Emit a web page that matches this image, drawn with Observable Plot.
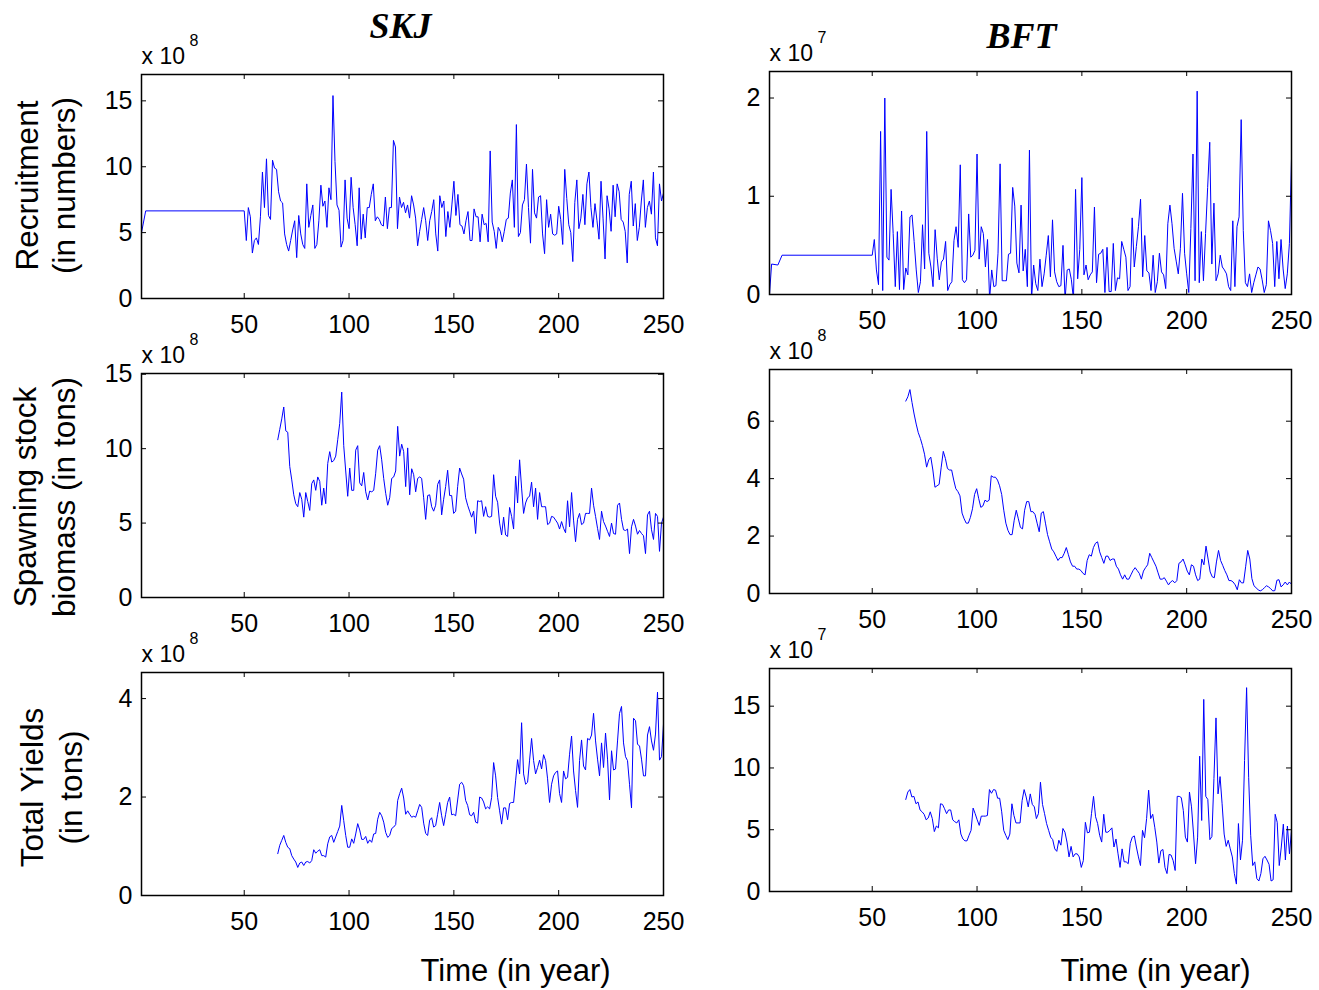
<!DOCTYPE html>
<html><head><meta charset="utf-8">
<script src="https://cdn.jsdelivr.net/npm/d3@7"></script>
<script src="https://cdn.jsdelivr.net/npm/@observablehq/plot@0.6"></script>
<style>
body{margin:0;background:#fff;}
#fig{position:relative;width:1319px;height:990px;background:#fff;overflow:hidden;}
#fig svg{position:absolute;overflow:visible;}
</style></head><body><div id="fig"></div>
<script>
// ---------- data ----------
const xTicks = [50, 100, 150, 200, 250];
const speciesTitles = ["SKJ", "BFT"];
const rowLabels = [["Recruitment", "(in numbers)"], ["Spawning stock", "biomass (in tons)"], ["Total Yields", "(in tons)"]];
const timeLabel = "Time (in year)";

// SKJ recruitment (x 10^8): initial constant phase, then yearly values 51..250
const skjRecHeadYears = [1, 3, 50];
const skjRecHeadVals = [5.0, 6.65, 6.65];
const skjRec = [4.4,6.9,6.2,3.45,4.4,4.6,4.1,6.2,9.6,6.9,10.6,6.3,6.0,10.5,9.9,9.8,8.1,7.4,7.25,4.9,4.1,3.6,4.4,5.2,5.9,3.1,6.3,4.9,4.1,3.8,8.7,5.4,6.3,7.1,3.8,4.1,5.9,8.6,7.0,7.4,5.4,8.4,7.5,15.4,10.4,7.1,6.7,3.9,4.4,9.0,6.1,5.3,9.2,6.9,5.6,4.0,8.4,4.5,6.4,4.6,6.9,6.9,7.9,8.7,5.9,6.2,6.0,5.6,5.5,7.7,5.3,6.9,6.9,12.0,11.5,5.3,7.7,6.9,7.3,6.5,7.1,6.1,7.8,7.1,6.1,4.0,5.1,6.0,6.9,5.9,4.4,5.9,6.6,7.5,4.9,3.6,7.8,6.9,7.4,4.7,6.6,5.4,7.1,8.9,6.3,7.9,5.6,5.5,4.9,5.9,6.6,4.4,4.4,6.8,6.2,6.2,4.3,6.4,5.6,5.7,4.3,11.2,5.8,5.1,3.8,5.4,5.1,4.3,5.1,6.0,6.1,8.0,9.0,5.4,13.2,4.7,5.0,7.1,7.5,10.2,6.9,4.2,9.8,6.5,6.1,7.7,7.8,4.9,3.4,7.5,5.4,6.4,4.9,4.8,4.9,7.0,6.0,4.1,9.8,7.6,5.6,5.0,2.8,7.3,9.0,5.3,6.1,7.9,5.6,8.7,9.6,6.9,5.4,7.2,5.9,4.5,8.9,6.1,3.0,7.8,6.8,5.1,8.6,6.2,8.7,8.1,6.0,5.8,5.1,2.7,7.9,8.9,5.5,7.2,4.4,5.4,7.4,9.0,5.4,6.9,7.4,6.4,9.6,4.6,4.0,8.7,7.4,8.0];

// BFT recruitment (x 10^7)
const bftRecHeadYears = [1, 2, 5, 7, 50];
const bftRecHeadVals = [0, 0.31, 0.30, 0.40, 0.40];
const bftRec = [0.56,0.25,0.10,1.66,0.04,2.0,0.38,0.35,1.07,0.62,0.08,0.64,0.05,0.85,0.05,0.27,0.20,0.79,0.81,0.54,0.25,0.02,0.13,0.71,0.26,1.66,0.42,0.28,0.08,0.66,0.37,0.15,0.33,0.36,0.54,0.04,0.10,0.13,0.55,0.69,0.48,1.32,0.15,0.12,0.15,0.82,0.38,0.40,0.45,1.43,0.36,0.69,0.62,0.28,0.56,-0.05,0.25,0.08,0.09,0.42,1.33,0.14,0.14,0.14,0.41,0.42,1.09,0.90,0.32,0.22,0.91,0.24,0.46,0.08,1.47,-0.05,0.30,0.11,0.04,0.36,0.08,0.21,0.40,0.60,0.18,0.76,0.23,0.13,0.08,0.09,0.50,-0.05,0.25,0.26,0.15,-0.05,1.07,0.16,0.46,1.19,0.20,0.30,0.15,0.20,0.23,0.89,0.12,0.41,0.42,0.46,0.02,0.48,0.03,0.03,0.52,0.04,0.17,0.16,0.54,0.46,0.38,0.04,0.08,0.78,0.28,0.49,0.69,0.97,0.18,0.60,0.24,0.22,0.04,0.40,0.02,0.13,0.42,0.23,0.20,0.06,0.72,0.91,0.72,0.47,0.34,0.21,0.47,1.03,0.42,0.21,0.02,0.67,1.43,0.14,2.07,0.12,0.64,0.14,0.62,1.09,1.55,0.31,0.93,0.14,0.21,0.40,0.28,0.25,0.21,0.08,0.04,0.75,0.08,0.69,0.79,1.78,0.65,0.12,0.08,0.21,0.02,0.12,0.20,0.28,0.26,0.15,0.02,0.10,0.75,0.65,0.52,0.08,0.54,0.16,0.56,0.26,0.06,0.21,0.52,1.38];

// Spawning stock biomass, years 66..250
const skjSSB = [10.6,11.3,12.0,12.8,11.2,11.1,8.8,7.9,6.9,6.3,6.1,7.05,6.6,5.4,7.05,6.45,5.85,7.65,7.9,7.2,8.1,7.8,6.2,7.35,6.3,9.0,9.8,9.1,9.2,9.5,10.6,11.7,13.8,10.2,8.5,6.8,8.7,7.2,7.2,9.9,10.2,7.7,7.5,8.4,7.1,6.55,7.15,7.1,7.2,8.35,9.9,10.2,9.25,8.0,7.0,6.2,6.7,8.0,8.1,8.5,11.5,9.5,10.3,9.8,7.45,10.05,6.9,8.65,8.25,7.1,8.0,8.1,8.0,6.7,5.25,6.85,6.9,6.1,5.8,6.2,7.6,7.9,5.55,6.6,7.45,8.55,6.85,6.85,5.65,5.8,7.45,8.7,8.3,7.95,6.7,6.2,5.8,5.4,5.8,4.3,6.5,6.45,6.5,5.45,6.1,5.45,5.4,5.45,8.25,6.8,6.4,5.0,4.2,5.4,4.2,4.1,6.05,5.45,4.6,8.15,6.35,9.25,7.35,5.65,6.35,6.7,6.8,7.75,6.1,7.35,5.25,7.05,6.1,6.1,6.1,4.9,5.0,5.45,5.4,5.2,5.0,4.6,5.1,4.65,4.35,6.5,4.75,7.05,5.2,3.75,5.25,5.65,4.9,5.0,5.65,5.65,5.65,7.35,6.2,5.45,4.65,3.9,5.8,5.1,4.8,4.45,4.1,5.0,4.3,4.25,6.2,6.35,5.25,4.55,4.5,4.6,2.95,4.75,5.25,4.8,4.25,4.5,4.3,4.15,2.95,5.55,5.8,4.55,3.9,5.65,5.45,3.1,5.0,5.4];
const bftSSB = [6.7,6.85,7.1,6.65,6.25,5.9,5.6,5.4,5.15,4.85,4.4,4.65,4.75,4.3,3.7,3.75,3.8,4.4,4.95,4.7,4.35,4.3,4.3,3.95,3.65,3.55,3.4,2.8,2.6,2.45,2.45,2.65,2.95,3.45,3.65,3.3,3.0,3.05,3.25,3.2,3.25,4.1,4.05,4.05,3.95,3.75,3.45,2.9,2.45,2.2,2.05,2.05,2.55,2.9,2.6,2.3,2.25,2.9,3.2,3.2,2.85,2.85,2.75,2.45,2.15,2.8,2.85,2.45,2.05,1.8,1.55,1.45,1.3,1.15,1.25,1.25,1.4,1.6,1.35,1.1,0.95,0.95,0.85,0.85,0.8,0.7,0.65,1.15,1.35,1.3,1.6,1.75,1.8,1.45,1.25,1.05,1.3,1.3,1.15,1.2,1.2,0.95,0.85,0.65,0.5,0.65,0.5,0.5,0.65,0.8,0.9,0.8,0.7,0.5,0.78,0.9,1.0,1.4,1.25,1.1,0.95,0.72,0.5,0.5,0.55,0.43,0.3,0.4,0.45,0.37,0.45,1.05,1.1,1.2,1.0,0.78,0.65,1.0,0.95,0.65,0.45,0.5,1.2,1.0,1.65,1.2,0.75,0.58,0.55,1.1,1.5,1.15,0.98,0.8,0.65,0.45,0.45,0.4,0.3,0.13,0.48,0.37,0.37,0.93,1.5,1.2,0.52,0.27,0.2,0.13,0.09,0.13,0.2,0.27,0.23,0.17,0.09,0.1,0.46,0.48,0.23,0.3,0.4,0.3,0.4,0.32];

// Total yields, years 66..250
const skjYield = [0.85,1.02,1.12,1.22,1.08,0.98,0.95,0.81,0.74,0.68,0.57,0.66,0.68,0.61,0.68,0.69,0.66,0.71,0.93,0.86,0.9,0.93,0.81,0.81,0.78,1.05,1.19,1.22,1.08,1.19,1.3,1.41,1.83,1.52,1.22,0.98,0.98,1.15,1.06,1.25,1.46,1.33,1.14,1.14,1.2,1.06,1.13,1.08,1.25,1.26,1.55,1.69,1.62,1.49,1.28,1.18,1.22,1.36,1.39,1.44,1.93,2.07,2.18,1.98,1.65,1.72,1.65,1.59,1.61,1.59,1.72,1.85,1.79,1.47,1.26,1.22,1.53,1.58,1.39,1.42,1.65,1.89,1.62,1.42,1.65,1.89,2.0,1.64,1.65,1.62,1.94,2.26,2.3,2.23,1.93,1.83,1.64,1.62,1.69,1.49,1.47,2.0,1.98,1.9,1.76,1.8,1.76,1.99,2.7,2.43,1.99,1.72,1.45,1.78,1.78,1.54,1.87,1.89,1.89,2.33,2.76,2.47,3.51,2.47,2.26,2.3,2.75,3.19,2.74,2.47,2.6,2.75,2.57,2.86,2.74,2.37,1.89,2.26,2.43,2.5,2.53,2.07,1.89,2.53,2.37,2.4,2.87,3.24,2.53,2.13,1.79,2.74,3.16,2.63,2.55,3.19,3.16,3.26,3.7,3.14,2.77,2.43,3.1,2.6,3.3,2.77,1.94,2.94,2.55,2.57,3.14,3.7,3.84,3.1,2.82,2.74,2.26,1.78,3.6,3.55,3.07,3.04,2.77,2.43,2.43,3.26,3.43,3.14,2.95,3.28,4.13,2.75,2.82,3.48];
const bftYield = [7.45,8.05,8.25,7.65,7.7,7.1,7.25,6.6,6.45,6.25,5.8,5.95,6.45,5.9,4.85,5.3,5.15,7.1,7.05,6.7,6.3,6.6,6.6,5.8,5.65,5.55,5.8,4.65,4.25,4.1,4.1,4.55,4.95,6.75,6.3,5.8,5.35,6.1,6.1,6.1,6.15,8.25,7.95,8.25,8.2,7.55,7.55,6.45,4.95,4.55,4.2,4.65,7.1,6.15,5.55,5.55,5.55,7.35,8.25,7.65,6.85,7.9,7.05,6.85,5.9,6.3,8.85,7.05,6.3,5.5,4.95,4.4,4.2,3.45,3.25,4.15,3.75,5.1,4.8,4.0,2.8,3.65,2.8,3.05,3.05,2.8,1.95,2.5,5.6,4.75,4.8,6.3,7.7,6.05,5.5,4.55,4.0,6.25,4.8,4.8,4.95,5.15,3.6,4.25,3.05,1.95,3.45,2.4,2.4,2.25,3.9,4.4,4.5,3.6,2.8,2.1,4.95,4.35,5.9,8.2,5.9,6.25,5.2,4.0,2.3,3.3,3.4,1.95,1.45,3.0,2.95,2.5,1.7,7.7,7.7,7.6,6.55,4.4,4.0,8.05,6.85,4.65,2.25,4.4,10.95,5.75,15.55,7.7,7.45,4.2,4.45,9.15,14.05,7.9,9.3,7.1,4.65,3.65,4.15,3.45,2.8,1.45,0.6,5.5,2.55,4.15,10.6,16.5,9.25,4.55,2.1,2.4,1.05,0.85,1.45,2.65,2.85,2.55,2.2,0.85,0.95,6.25,5.6,2.1,3.6,5.45,2.55,5.3,3.05,4.95];

// y tick values and exponents per panel
const yTicksSkjRec = [0, 5, 10, 15], yTicksBftRec = [0, 1, 2];
const yTicksSkjSSB = [0, 5, 10, 15], yTicksBftSSB = [0, 2, 4, 6];
const yTicksSkjYield = [0, 2, 4], yTicksBftYield = [0, 5, 10, 15];
const exponents = [["8", "7"], ["8", "8"], ["8", "7"]];

// ---------- build rows ----------
function rows(headYears, headVals, start, end, vals) {
  const out = headYears.map((x, i) => ({year: x, v: headVals[i]}));
  const n = vals.length;
  vals.forEach((v, i) => out.push({year: start + i * (end - start) / (n - 1), v}));
  return out;
}

const FONT = "'Liberation Sans', Arial, Helvetica, sans-serif";
const SERIF = "'Liberation Serif', 'Times New Roman', serif";

const panels = [
  {col:0,row:0,left:0,  top:0,  w:693,h:340,ml:141,mr:30,mt:74,mb:42, yMax:17,   ticks:yTicksSkjRec,  data:rows(skjRecHeadYears, skjRecHeadVals, 51, 250, skjRec)},
  {col:1,row:0,left:693,top:0,  w:626,h:340,ml:76, mr:28,mt:71,mb:46, yMax:2.27, ticks:yTicksBftRec,  data:rows(bftRecHeadYears, bftRecHeadVals, 51, 250, bftRec)},
  {col:0,row:1,left:0,  top:340,w:693,h:300,ml:141,mr:30,mt:33,mb:43, yMax:15.05,ticks:yTicksSkjSSB,  data:rows([], [], 66, 250, skjSSB)},
  {col:1,row:1,left:693,top:340,w:626,h:300,ml:76, mr:28,mt:29,mb:47, yMax:7.8,  ticks:yTicksBftSSB,  data:rows([], [], 66, 250, bftSSB)},
  {col:0,row:2,left:0,  top:640,w:693,h:350,ml:141,mr:30,mt:32,mb:95, yMax:4.53, ticks:yTicksSkjYield,data:rows([], [], 66, 250, skjYield)},
  {col:1,row:2,left:693,top:640,w:626,h:350,ml:76, mr:28,mt:28,mb:99, yMax:18.05,ticks:yTicksBftYield,data:rows([], [], 66, 250, bftYield)}
];

// label placement (styling only)
const ylabelPos = [
  {dx1:-104, dx2:-66.5, dy:-1},
  {dx1:-106, dx2:-66.5, dy:11.5},
  {dx1:-98.5, dx2:-60, dy:3.5}
];

const fig = document.getElementById("fig");
for (const p of panels) {
  const bw = p.w - p.ml - p.mr, bh = p.h - p.mt - p.mb;
  const marks = [
    Plot.line(p.data, {x:"year", y:"v", stroke:"#0000ff", strokeWidth:1, clip:true}),
    Plot.tickX(xTicks, {x:d=>d, stroke:"black", strokeWidth:1, insetBottom:bh-5}),
    Plot.tickX(xTicks, {x:d=>d, stroke:"black", strokeWidth:1, insetTop:bh-5}),
    Plot.tickY(p.ticks, {y:d=>d, stroke:"black", strokeWidth:1, insetRight:bw-5}),
    Plot.tickY(p.ticks, {y:d=>d, stroke:"black", strokeWidth:1, insetLeft:bw-5}),
    Plot.frame({stroke:"black", strokeWidth:1.5}),
    Plot.axisX(xTicks, {tickSize:0, tickPadding:17, label:null, fill:"black", tickFormat:d=>String(d)}),
    Plot.axisY(p.ticks, {tickSize:0, tickPadding:9, label:null, fill:"black", tickFormat:d=>String(d)}),
    Plot.text(["x 10"], {text:d=>d, frameAnchor:"top-left", textAnchor:"start", lineAnchor:"bottom", dy:-11, fontSize:23, fill:"black"}),
    Plot.text([exponents[p.row][p.col]], {text:d=>d, frameAnchor:"top-left", textAnchor:"start", lineAnchor:"bottom", dx:48, dy:-29, fontSize:16, fill:"black"})
  ];
  if (p.row === 0) {
    marks.push(Plot.text([speciesTitles[p.col]], {text:d=>d, frameAnchor:"top", textAnchor:"middle", lineAnchor:"bottom",
      dx: p.col === 0 ? -2 : -9, dy: p.col === 0 ? -36.3 : -24, fontSize:36, fontFamily:SERIF, fontWeight:"bold", fontStyle:"italic", fill:"black"}));
  }
  if (p.col === 0) {
    const lp = ylabelPos[p.row];
    marks.push(Plot.text([rowLabels[p.row][0]], {text:d=>d, frameAnchor:"left", rotate:-90, textAnchor:"middle", lineAnchor:"bottom", dx:lp.dx1, dy:lp.dy, fontSize:31.5, fill:"black"}));
    marks.push(Plot.text([rowLabels[p.row][1]], {text:d=>d, frameAnchor:"left", rotate:-90, textAnchor:"middle", lineAnchor:"bottom", dx:lp.dx2, dy:lp.dy, fontSize:31.5, fill:"black"}));
  }
  if (p.row === 2) {
    marks.push(Plot.text([timeLabel], {text:d=>d, frameAnchor:"bottom", textAnchor:"middle", lineAnchor:"bottom",
      dx: p.col === 0 ? 113 : 125, dy: p.col === 0 ? 85 : 89, fontSize:31, fill:"black"}));
  }
  const svg = Plot.plot({
    width:p.w, height:p.h,
    marginLeft:p.ml, marginRight:p.mr, marginTop:p.mt, marginBottom:p.mb,
    x:{domain:[1, 250]},
    y:{domain:[0, p.yMax]},
    style:{fontFamily:FONT, fontSize:"25px", background:"transparent", overflow:"visible", color:"black"},
    marks
  });
  svg.style.left = p.left + "px";
  svg.style.top = p.top + "px";
  svg.style.maxWidth = "none";
  fig.appendChild(svg);
}
</script>
</body></html>
